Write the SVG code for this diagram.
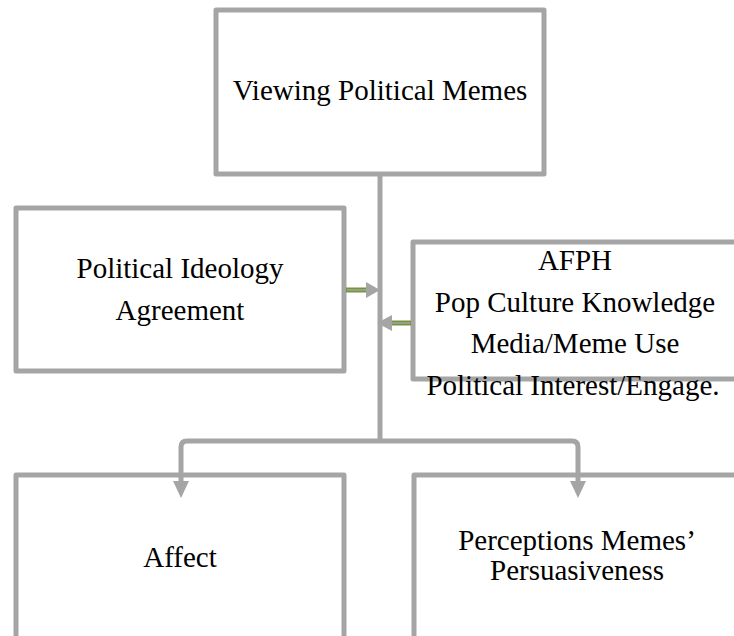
<svg xmlns="http://www.w3.org/2000/svg" width="734" height="636" viewBox="0 0 734 636">
<style>
.box{fill:#ffffff;stroke:#a5a5a5;stroke-width:5;stroke-linejoin:round}
text{font-family:'Liberation Serif','Times New Roman',Times,serif;font-size:29px;fill:#000000;text-anchor:middle}
.line{fill:none;stroke:#a5a5a5;stroke-width:5;stroke-linejoin:round}
.gl{stroke:#77933c;stroke-width:5;fill:none}
.gi{stroke:#a5a5a5;stroke-width:1.5;fill:none}
.head{fill:#a5a5a5}
</style>
<rect width="734" height="636" fill="#ffffff"/>
<g id="node-viewing">
<rect class="box" x="216" y="10" width="328" height="164"/>
<text x="380" y="100" font-family="Liberation Serif, serif">Viewing Political Memes</text>
</g>
<g id="node-ideology">
<rect class="box" x="16" y="208" width="328" height="163"/>
<text x="180" y="278" font-family="Liberation Serif, serif">Political Ideology</text>
<text x="180" y="320" font-family="Liberation Serif, serif">Agreement</text>
</g>
<g id="node-moderators">
<rect class="box" x="413" y="242" width="340" height="137"/>
<text x="575" y="270" font-family="Liberation Serif, serif">AFPH</text>
<text x="575" y="312" font-family="Liberation Serif, serif">Pop Culture Knowledge</text>
<text x="575" y="353" font-family="Liberation Serif, serif">Media/Meme Use</text>
<text x="573" y="395" font-family="Liberation Serif, serif">Political Interest/Engage.</text>
</g>
<g id="node-affect">
<rect class="box" x="16" y="475" width="328" height="180"/>
<text x="180" y="567" font-family="Liberation Serif, serif">Affect</text>
</g>
<g id="node-persuasiveness">
<rect class="box" x="414" y="475" width="340" height="180"/>
<text x="577" y="550" font-family="Liberation Serif, serif">Perceptions Memes’</text>
<text x="577" y="580" font-family="Liberation Serif, serif">Persuasiveness</text>
</g>
<g id="connectors">
<path class="line" d="M380,176 V441"/>
<path class="line" d="M181,483 V447 Q181,441 187,441 H572 Q578,441 578,447 V483"/>
<polygon class="head" points="173,481 189,481 181,498"/>
<polygon class="head" points="570,481 586,481 578,498"/>
<line class="gl" x1="346" y1="290" x2="368" y2="290"/>
<line class="gi" x1="347" y1="290" x2="368" y2="290"/>
<polygon class="head" points="366,282 366,298 380,290"/>
<line class="gl" x1="391" y1="323" x2="411" y2="323"/>
<line class="gi" x1="391" y1="323" x2="410" y2="323"/>
<polygon class="head" points="392,315 392,331 377,323"/>
</g>
</svg>
